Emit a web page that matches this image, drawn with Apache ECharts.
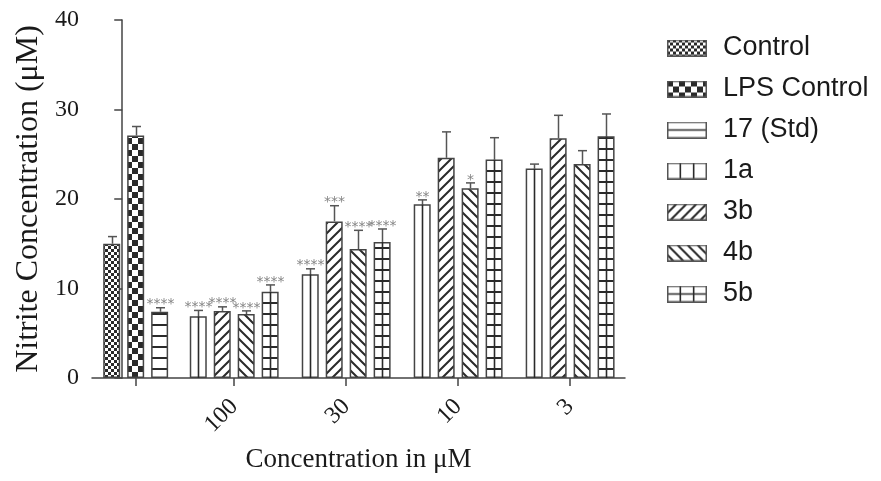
<!DOCTYPE html>
<html>
<head>
<meta charset="utf-8">
<style>
  html, body { margin: 0; padding: 0; background: #fff; }
  #chart { width: 881px; height: 481px; }
</style>
<script src="https://cdn.jsdelivr.net/npm/echarts@6/dist/echarts.min.js"></script>
</head>
<body>
<div id="chart"></div>
<script>
// Nitrite release: control wells and four compounds at four concentrations (µM)
const concLabels = ['100', '30', '10', '3'];

const controlNames = ['Control', 'LPS Control', '17 (Std)'];
const controlMeans = [15.0, 27.1, 7.4];
const controlErr   = [0.8, 1.0, 0.45];
const controlSig   = ['', '', '****'];

const compoundNames = ['1a', '3b', '4b', '5b'];
const mean1a = [6.9, 11.6, 19.4, 23.4];
const err1a  = [0.65, 0.6, 0.5, 0.5];
const sig1a  = ['****', '****', '**', ''];
const mean3b = [7.5, 17.5, 24.6, 26.8];
const err3b  = [0.45, 1.75, 2.9, 2.55];
const sig3b  = ['****', '***', '', ''];
const mean4b = [7.15, 14.4, 21.2, 23.9];
const err4b  = [0.35, 2.1, 0.6, 1.5];
const sig4b  = ['****', '****', '*', ''];
const mean5b = [9.65, 15.2, 24.4, 27.0];
const err5b  = [0.75, 1.45, 2.45, 2.5];
const sig5b  = ['****', '****', '', ''];

const yTicks = [0, 10, 20, 30, 40];

// ---- layout along the x value axis (one unit = distance between concentration groups)
const X_MIN = -0.27, X_MAX = 4.49;
const PITCH = 0.214;        // distance between neighbouring bars
const CONTROL_X = 0.12;     // centre of the control group
const groupX = concLabels.map((_, k) => k + 1);

const INK = '#2a2a2a';
const EDGE = '#444';

// ---- fill patterns
function tile(w, h, draw) {
  const c = document.createElement('canvas');
  c.width = w; c.height = h;
  const g = c.getContext('2d');
  g.fillStyle = '#fff';
  g.fillRect(0, 0, w, h);
  g.fillStyle = INK; g.strokeStyle = INK;
  draw(g, w, h);
  return c;
}
const tiles = {
  checkSmall: tile(6, 6, g => { g.fillRect(0, 0, 3, 3); g.fillRect(3, 3, 3, 3); }),
  checkLarge: tile(12, 12, g => { g.fillRect(0, 0, 6, 6); g.fillRect(6, 6, 6, 6); }),
  hLines: tile(8, 11, g => { g.fillRect(0, 5, 8, 2); }),
  plain: tile(4, 4, () => {}),
  fwd: tile(10, 10, g => {
    g.lineWidth = 2;
    g.beginPath();
    g.moveTo(-1, 11); g.lineTo(11, -1);
    g.moveTo(-1, 1); g.lineTo(1, -1);
    g.moveTo(9, 11); g.lineTo(11, 9);
    g.stroke();
  }),
  back: tile(10, 10, g => {
    g.lineWidth = 2;
    g.beginPath();
    g.moveTo(-1, -1); g.lineTo(11, 11);
    g.moveTo(9, -1); g.lineTo(11, 1);
    g.moveTo(-1, 9); g.lineTo(1, 11);
    g.stroke();
  })
};
const pattern = t => ({ image: tiles[t], repeat: 'repeat' });

const seriesFill = {
  'Control': 'checkSmall', 'LPS Control': 'checkLarge', '17 (Std)': 'hLines',
  '1a': 'plain', '3b': 'fwd', '4b': 'back', '5b': 'hLines'
};
// bars that carry a single vertical rule through their middle
const centreRule = { '1a': true, '5b': true };

// ---- legend swatches
function swatch(name) {
  const c = document.createElement('canvas');
  const W = 40, H = 17;
  c.width = 56; c.height = H;
  const g = c.getContext('2d');
  const kind = seriesFill[name];
  if (kind === 'checkSmall' || kind === 'checkLarge' || kind === 'fwd' || kind === 'back') {
    g.fillStyle = g.createPattern(tiles[kind], 'repeat');
  } else {
    g.fillStyle = '#fff';
  }
  g.fillRect(0, 0, W, H);
  g.strokeStyle = INK; g.lineWidth = 1.6;
  g.beginPath();
  if (name === '17 (Std)' || name === '5b') { g.moveTo(0, H / 2); g.lineTo(W, H / 2); }
  if (name === '1a' || name === '5b') {
    g.moveTo(W / 3, 0); g.lineTo(W / 3, H);
    g.moveTo(2 * W / 3, 0); g.lineTo(2 * W / 3, H);
  }
  g.stroke();
  g.strokeStyle = '#555'; g.lineWidth = 1.5;
  g.strokeRect(0.75, 0.75, W - 1.5, H - 1.5);
  return 'image://' + c.toDataURL();
}

// ---- marks: one entry per bar
const marks = [];
controlNames.forEach((n, i) => marks.push({
  name: n, x: CONTROL_X + (i - 1) * PITCH,
  mean: controlMeans[i], err: controlErr[i], sig: controlSig[i]
}));
const cmpMeans = [mean1a, mean3b, mean4b, mean5b];
const cmpErr = [err1a, err3b, err4b, err5b];
const cmpSig = [sig1a, sig3b, sig4b, sig5b];
compoundNames.forEach((n, s) => {
  groupX.forEach((gx, k) => marks.push({
    name: n, x: gx + (s - 1.5) * PITCH,
    mean: cmpMeans[s][k], err: cmpErr[s][k], sig: cmpSig[s][k]
  }));
});

const allNames = controlNames.concat(compoundNames);
const barSeries = allNames.map(n => ({
  name: n,
  type: 'bar',
  barWidth: 17,
  barGap: '-100%',
  data: marks.filter(m => m.name === n).map(m => [m.x, m.mean]),
  itemStyle: { color: pattern(seriesFill[n]), borderColor: EDGE, borderWidth: 1.5 },
  emphasis: { disabled: true },
  z: 2
}));

const overlay = {
  name: 'error',
  type: 'custom',
  z: 3,
  data: marks.map(m => [m.x, m.mean, m.err]),
  renderItem: (params, api) => {
    const m = marks[params.dataIndex];
    const base = api.coord([m.x, 0]);
    const top = api.coord([m.x, m.mean]);
    const hi = api.coord([m.x, m.mean + m.err]);
    const cx = Math.round(top[0]) + 0.5;
    const children = [];
    if (centreRule[m.name]) {
      children.push({ type: 'line', shape: { x1: cx, y1: base[1], x2: cx, y2: top[1] },
        style: { stroke: INK, lineWidth: 1.6 } });
    }
    children.push({ type: 'line', shape: { x1: cx, y1: top[1], x2: cx, y2: hi[1] },
      style: { stroke: '#555', lineWidth: 1.5 } });
    children.push({ type: 'line', shape: { x1: cx - 4.5, y1: hi[1], x2: cx + 4.5, y2: hi[1] },
      style: { stroke: '#555', lineWidth: 1.5 } });
    if (m.sig) {
      children.push({ type: 'text', x: cx, y: hi[1] - 3,
        style: { text: m.sig, align: 'center', verticalAlign: 'middle',
          fill: '#858585', font: '14px "DejaVu Sans"' } });
    }
    return { type: 'group', children };
  }
};

const serif = '"Liberation Serif", "Times New Roman", serif';
const chart = echarts.init(document.getElementById('chart'));
chart.setOption({
  animation: false,
  backgroundColor: '#fff',
  grid: { left: 92, right: 256, top: 20, bottom: 103, outerBoundsMode: 'none' },
  legend: {
    orient: 'vertical',
    left: 662, top: 29,
    itemWidth: 56, itemHeight: 17,
    itemGap: 13,
    selectedMode: false,
    textStyle: { fontFamily: '"Liberation Sans", Arial, sans-serif', fontSize: 27, lineHeight: 28, color: '#1a1a1a', padding: [0, 0, 0, -5] },
    data: allNames.map(n => ({ name: n, icon: swatch(n) }))
  },
  xAxis: {
    type: 'value',
    min: X_MIN, max: X_MAX,
    name: 'Concentration in μM',
    nameLocation: 'middle',
    nameGap: 68,
    nameTextStyle: { fontFamily: serif, fontSize: 27, color: '#1a1a1a' },
    splitLine: { show: false },
    axisLine: { show: true, lineStyle: { color: EDGE, width: 1.5 } },
    axisTick: { show: true, length: 8, lineStyle: { color: EDGE, width: 1.5 },
      customValues: [CONTROL_X].concat(groupX) },
    axisLabel: {
      customValues: groupX,
      rotate: 45, margin: 25,
      fontFamily: serif, fontSize: 24, color: '#1a1a1a',
      formatter: v => concLabels[groupX.indexOf(v)]
    }
  },
  yAxis: {
    type: 'value',
    min: yTicks[0], max: yTicks[yTicks.length - 1], interval: 10,
    name: 'Nitrite Concentration (μM)',
    nameLocation: 'middle',
    nameGap: 47,
    nameTextStyle: { fontFamily: serif, fontSize: 32, color: '#1a1a1a' },
    splitLine: { show: false },
    axisLine: { show: true, lineStyle: { color: EDGE, width: 1.5 } },
    axisTick: { show: true, length: 8, lineStyle: { color: EDGE, width: 1.5 } },
    axisLabel: { margin: 13, fontFamily: serif, fontSize: 24, color: '#1a1a1a' }
  },
  series: barSeries.concat([overlay])
});
</script>
</body>
</html>
